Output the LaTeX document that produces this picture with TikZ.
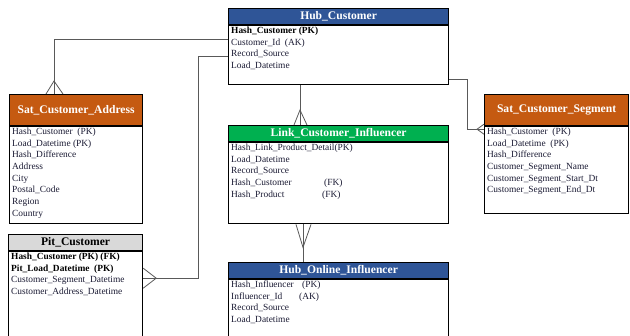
\documentclass[tikz,border=0pt]{standalone}
\usepackage{fontspec}
\setmainfont{Liberation Serif}
\usetikzlibrary{positioning,calc}
\definecolor{hubblue}{HTML}{2F5597}
\definecolor{satorange}{HTML}{C55A11}
\definecolor{linkgreen}{HTML}{00B050}
\definecolor{pitgray}{HTML}{D9D9D9}
\definecolor{fieldink}{HTML}{1A1A33}

\begin{document}
\begin{tikzpicture}[
  x=1pt, y=-1pt,
  hdr/.style    = {rectangle, draw=black, line width=1.2pt, inner sep=0pt,
                   minimum height=16pt, anchor=north west, text=white,
                   font=\fontsize{11.6}{12}\selectfont\bfseries},
  body/.style   = {rectangle, draw=black, line width=1.2pt, fill=white,
                   inner sep=0pt, anchor=north west},
  fields/.style = {anchor=north west, inner xsep=3pt, inner ysep=1.5pt,
                   align=left, text=fieldink,
                   font=\fontsize{9.4}{11.7}\selectfont},
  rel/.style    = {draw=black!65, line width=0.8pt}
]
\path[use as bounding box, clip] (0,0) rectangle (630,336);

%% Hubs
\node[hdr, fill=hubblue, minimum width=220pt] (hubcust) at (228,8) {Hub\_Customer};
\node[body, minimum width=220pt, minimum height=59pt] (hubcustb) at (hubcust.south west) {};
\node[fields] (hubcustf) at (hubcustb.north west)
  {\textbf{\color{black}Hash\_Customer (PK)}\\Customer\_Id\ \ (AK)\\Record\_Source\\Load\_Datetime};

\node[hdr, fill=hubblue, minimum width=220pt] (hubinf) at (228,262) {Hub\_Online\_Influencer};
\node[body, minimum width=220pt, minimum height=90pt] (hubinfb) at (hubinf.south west) {};
\node[fields] (hubinff) at (hubinfb.north west)
  {\makebox[71pt][l]{Hash\_Influencer}(PK)\\\makebox[68pt][l]{Influencer\_Id}(AK)\\Record\_Source\\Load\_Datetime};

%% Link
\node[hdr, fill=linkgreen, minimum width=220pt] (link) at (228,125) {Link\_Customer\_Influencer};
\node[body, minimum width=220pt, minimum height=81pt] (linkb) at (link.south west) {};
\node[fields] (linkf) at (linkb.north west)
  {Hash\_Link\_Product\_Detail(PK)\\Load\_Datetime\\Record\_Source\\
   \makebox[93pt][l]{Hash\_Customer}(FK)\\\makebox[91pt][l]{Hash\_Product}(FK)};

%% Satellites
\node[hdr, fill=satorange, minimum width=133pt, minimum height=31pt] (sataddr) at (9,94) {Sat\_Customer\_Address};
\node[body, minimum width=133pt, minimum height=97pt] (sataddrb) at (sataddr.south west) {};
\node[fields] (sataddrf) at (sataddrb.north west)
  {Hash\_Customer\ \ (PK)\\Load\_Datetime\ (PK)\\Hash\_Difference\\Address\\City\\Postal\_Code\\Region\\Country};

\node[hdr, fill=satorange, minimum width=144pt, minimum height=31pt] (satseg) at (484,94) {Sat\_Customer\_Segment};
\node[body, minimum width=144pt, minimum height=87pt] (satsegb) at (satseg.south west) {};
\node[fields] (satsegf) at (satsegb.north west)
  {Hash\_Customer\ \ (PK)\\Load\_Datetime\ \ (PK)\\Hash\_Difference\\Customer\_Segment\_Name\\
   Customer\_Segment\_Start\_Dt\\Customer\_Segment\_End\_Dt};

%% Point in time
\node[hdr, fill=pitgray, text=black, minimum width=134pt] (pit) at (8,234) {Pit\_Customer};
\node[body, minimum width=134pt, minimum height=110pt] (pitb) at (pit.south west) {};
\node[fields] (pitf) at (pitb.north west)
  {\textbf{\color{black}Hash\_Customer (PK) (FK)}\\\textbf{\color{black}Pit\_Load\_Datetime\ \ (PK)}\\
   Customer\_Segment\_Datetime\\Customer\_Address\_Datetime};

%% Hub_Customer -> Sat_Customer_Address
\draw[rel] ($(hubcustb.north west)+(0,14)$) -| ($(sataddr.north west)+(45,0)$);
\draw[rel] ($(sataddr.north west)+(37,0)$) -- ($(sataddr.north west)+(45,-13)$)
           -- ($(sataddr.north west)+(54,0)$);

%% Hub_Customer -> Pit_Customer
\draw[rel] ($(hubcustb.north west)+(0,31)$) -| ($(pitb.north east)+(55,27)$) -- ($(pitb.north east)+(0,27)$);
\draw[rel] ($(pitb.north east)+(0,17)$) -- ($(pitb.north east)+(13,27)$)
           -- ($(pitb.north east)+(0,37)$);

%% Hub_Customer -> Link_Customer_Influencer
\draw[rel] ($(hubcustb.south west)+(72,0)$) -- ($(link.north west)+(72,0)$);
\draw[rel] ($(link.north west)+(66,0)$) -- ($(link.north west)+(72,-15)$)
           -- ($(link.north west)+(79,0)$);

%% Link_Customer_Influencer -> Hub_Online_Influencer
\draw[rel] ($(linkb.south west)+(75,0)$) -- ($(hubinf.north west)+(75,0)$);
\draw[rel] ($(linkb.south west)+(68,0)$) -- ($(linkb.south west)+(75,23)$)
           -- ($(linkb.south west)+(83,0)$);

%% Hub_Customer -> Sat_Customer_Segment
\draw[rel] ($(hubcustb.north east)+(0,54)$) -| ($(satsegb.north west)+(-17,3)$) -- ($(satsegb.north west)+(0,3)$);
\draw[rel] ($(satsegb.north west)+(0,-2)$) -- ($(satsegb.north west)+(-7,3)$)
           -- ($(satsegb.north west)+(0,8)$);
\end{tikzpicture}
\end{document}
